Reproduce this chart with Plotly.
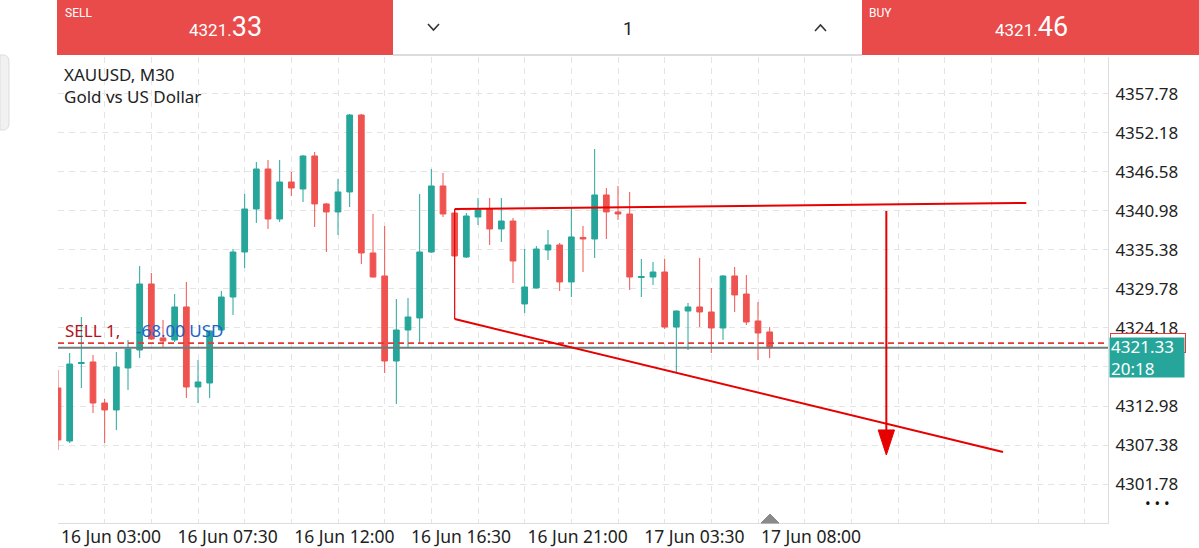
import plotly.graph_objects as go

W, H = 1199, 548

# ---------------- data ----------------
opens = [4315.56, 4307.95, 4319.08, 4319.30, 4313.41, 4312.41, 4318.44, 4321.02, 4330.50, 4322.75,
         4322.46, 4327.20, 4315.71, 4316.28, 4323.89, 4328.63, 4335.09, 4341.27, 4347.01, 4339.83,
         4345.14, 4344.14, 4348.88, 4341.99, 4340.84, 4343.71, 4354.76, 4334.95, 4331.65, 4319.44,
         4323.89, 4325.62, 4335.09, 4344.57, 4340.69, 4334.37, 4340.12, 4341.27, 4338.40, 4339.54,
         4327.63, 4329.92, 4335.38, 4336.10, 4330.79, 4337.18, 4336.96, 4343.28, 4340.84, 4340.55,
         4331.43, 4331.50, 4332.22, 4324.32, 4326.62, 4327.20, 4326.48, 4324.18, 4331.65, 4329.06,
         4325.19, 4323.61]
highs = [4318.15, 4320.59, 4325.76, 4320.30, 4313.99, 4320.73, 4322.46, 4333.08, 4332.08, 4325.33,
         4329.06, 4330.79, 4319.59, 4323.89, 4329.49, 4335.52, 4343.42, 4348.02, 4348.30, 4348.30,
         4346.58, 4349.00, 4349.45, 4342.13, 4345.57, 4354.91, 4354.91, 4340.55, 4338.83, 4328.34,
         4328.49, 4343.42, 4347.01, 4346.44, 4341.12, 4340.69, 4342.85, 4342.85, 4342.85, 4339.97,
         4335.52, 4335.95, 4338.25, 4336.39, 4341.41, 4338.83, 4349.88, 4344.28, 4344.57, 4343.71,
         4334.09, 4333.66, 4334.09, 4326.70, 4327.77, 4334.23, 4329.92, 4331.79, 4332.94, 4331.79,
         4327.91, 4324.32]
lows = [4306.66, 4307.67, 4315.56, 4311.97, 4307.67, 4309.53, 4315.28, 4319.87, 4322.46, 4321.31,
        4322.17, 4314.13, 4313.41, 4314.13, 4323.75, 4326.05, 4332.80, 4339.26, 4338.40, 4339.40,
        4343.13, 4342.27, 4338.68, 4335.09, 4337.53, 4341.55, 4333.37, 4331.45, 4317.72, 4313.27,
        4321.31, 4322.03, 4334.95, 4340.12, 4334.45, 4334.23, 4338.97, 4336.10, 4336.53, 4330.64,
        4326.33, 4329.85, 4333.94, 4329.49, 4328.63, 4332.22, 4334.23, 4336.96, 4339.69, 4329.64,
        4328.63, 4330.35, 4324.04, 4317.86, 4321.02, 4324.32, 4320.59, 4322.46, 4326.48, 4324.61,
        4319.59, 4319.87]
closes = [4308.10, 4319.01, 4319.23, 4313.41, 4312.41, 4318.58, 4321.16, 4330.50, 4322.60, 4322.31,
          4327.20, 4315.71, 4316.43, 4323.75, 4328.63, 4335.09, 4341.27, 4347.01, 4339.83, 4345.14,
          4344.28, 4348.88, 4341.99, 4340.84, 4343.71, 4354.76, 4334.95, 4331.50, 4319.44, 4323.89,
          4325.76, 4335.09, 4344.57, 4340.55, 4334.52, 4340.26, 4341.12, 4338.40, 4339.54, 4333.80,
          4330.07, 4335.52, 4336.10, 4330.79, 4337.25, 4336.96, 4343.28, 4340.84, 4340.55, 4331.50,
          4331.57, 4332.22, 4324.32, 4326.62, 4327.20, 4326.48, 4324.18, 4331.65, 4328.92, 4325.04,
          4323.46, 4321.33]
bar_index = list(range(len(opens)))

time_tick_index = [0, 10, 20, 30, 40, 50, 60]
time_tick_labels = ["16 Jun 03:00", "16 Jun 07:30", "16 Jun 12:00", "16 Jun 16:30",
                    "16 Jun 21:00", "17 Jun 03:30", "17 Jun 08:00"]
price_ticks = [4301.78, 4307.38, 4312.98, 4318.58, 4324.18, 4329.78,
               4335.38, 4340.98, 4346.58, 4352.18, 4357.78]

bid_price = 4321.33
ask_price = 4321.46
sell_open_price = 4322.00
bar_timer = "20:18"
position_text = "-68.00 USD"

# user drawings (bar index, price)
upper_line_x = [34, 83]
upper_line_y = [4341.27, 4342.13]
lower_line_x = [34, 81]
lower_line_y = [4325.47, 4306.37]
link_line_x = [34, 34]
link_line_y = [4341.27, 4325.47]
arrow_x = [71, 71]
arrow_y = [4340.98, 4305.94]

# ---------------- style ----------------
GREEN = "#26a69a"
RED = "#ef5350"
LINE_RED = "#e60000"
BAR_RED = "#e94b4b"
GRID = "#e4e4e4"
FONT = "Noto Sans"

X_RANGE = [0, 90]
Y_RANGE = [4296.18, 4363.09]
XD = [58 / W, 1108 / W]
YD = [1 - 523 / H, 1 - 57 / H]


def px(x):
    return x / W


def py(y):
    return 1 - y / H


def P(x, y):
    return f"{px(x):.5f},{py(y):.5f}"


fig = go.Figure()

fig.add_trace(go.Candlestick(
    x=bar_index, open=opens, high=highs, low=lows, close=closes,
    increasing=dict(line=dict(color=GREEN, width=1), fillcolor=GREEN),
    decreasing=dict(line=dict(color=RED, width=1), fillcolor=RED),
    whiskerwidth=0, hoverinfo="skip", showlegend=False,
))

# horizontal price lines
fig.add_trace(go.Scatter(x=X_RANGE, y=[sell_open_price] * 2, mode="lines",
                         line=dict(color="#e53935", width=1.6, dash="6px,4px"),
                         hoverinfo="skip", showlegend=False))
fig.add_trace(go.Scatter(x=X_RANGE, y=[bid_price] * 2, mode="lines",
                         line=dict(color="#6e7c7b", width=2),
                         hoverinfo="skip", showlegend=False))

# drawings
for xs, ys, w in [(upper_line_x, upper_line_y, 2), (lower_line_x, lower_line_y, 2),
                  (link_line_x, link_line_y, 1.2)]:
    fig.add_trace(go.Scatter(x=xs, y=ys, mode="lines", line=dict(color=LINE_RED, width=w),
                             hoverinfo="skip", showlegend=False))

head_len = 3.6   # price units
head_half = 0.7  # bar units
fig.add_trace(go.Scatter(x=arrow_x, y=[arrow_y[0], arrow_y[1] + head_len * 0.5], mode="lines",
                         line=dict(color=LINE_RED, width=2), hoverinfo="skip", showlegend=False))
fig.add_trace(go.Scatter(
    x=[arrow_x[1] - head_half, arrow_x[1] + head_half, arrow_x[1], arrow_x[1] - head_half],
    y=[arrow_y[1] + head_len, arrow_y[1] + head_len, arrow_y[1], arrow_y[1] + head_len],
    mode="lines", fill="toself", fillcolor=LINE_RED, line=dict(color=LINE_RED, width=1),
    hoverinfo="skip", showlegend=False))

shapes = []
# top bar
shapes.append(dict(type="rect", xref="paper", yref="paper", x0=px(57), x1=px(393), y0=py(55), y1=py(0),
                   fillcolor=BAR_RED, line=dict(width=0), layer="above"))
shapes.append(dict(type="rect", xref="paper", yref="paper", x0=px(393), x1=px(862), y0=py(55), y1=py(0),
                   fillcolor="white", line=dict(width=0), layer="above"))
shapes.append(dict(type="rect", xref="paper", yref="paper", x0=px(862), x1=px(1199), y0=py(55), y1=py(0),
                   fillcolor=BAR_RED, line=dict(width=0), layer="above"))
shapes.append(dict(type="line", xref="paper", yref="paper", x0=px(393), x1=px(862), y0=py(55), y1=py(55),
                   line=dict(color="#dcdcdc", width=2), layer="above"))
# chevrons
shapes.append(dict(type="path", xref="paper", yref="paper",
                   path=f"M{P(428,24)} L{P(433.5,30)} L{P(439,24)}",
                   line=dict(color="#333", width=1.6), layer="above"))
shapes.append(dict(type="path", xref="paper", yref="paper",
                   path=f"M{P(815,31)} L{P(820.5,25)} L{P(826,31)}",
                   line=dict(color="#333", width=1.6), layer="above"))
# left side handle
shapes.append(dict(type="path", xref="paper", yref="paper",
                   path=f"M{P(0,55)} L{P(3,55)} Q{P(9,55)} {P(9,62)} L{P(9,123)} Q{P(9,130)} {P(3,130)} L{P(0,130)} Z",
                   fillcolor="#f1f1f1", line=dict(color="#dddddd", width=1), layer="above"))
# bottom marker at last bar
shapes.append(dict(type="path", xref="paper", yref="paper",
                   path=f"M{P(761,523)} L{P(770,514)} L{P(779,523)} Z",
                   fillcolor="#8a8a8a", line=dict(color="#8a8a8a", width=1), layer="above"))

annotations = []


def ann(text, x, y, size, color, xanchor="left", yanchor="middle", family=FONT, **kw):
    annotations.append(dict(text=text, x=px(x), y=py(y), xref="paper", yref="paper",
                            xanchor=xanchor, yanchor=yanchor, showarrow=False,
                            font=dict(family=family, size=size, color=color), **kw))


ann("SELL", 63, 13, 12, "white", family="Roboto")
ann("BUY", 867, 13, 12, "white", family="Roboto")
sp, cp = f"{bid_price:.2f}".split(".")
ap, bp = f"{ask_price:.2f}".split(".")
ann(f"{sp}.<span style='font-size:27px'>{cp}</span>", 225, 27, 17, "white", xanchor="center", family="Roboto")
ann(f"{ap}.<span style='font-size:27px'>{bp}</span>", 1031, 27, 17, "white", xanchor="center", family="Roboto")
ann("1", 628, 28, 18, "#222", xanchor="center", family="Roboto")

ann("XAUUSD, M30", 62, 75, 17, "#222")
ann("Gold vs US Dollar", 62, 96, 17, "#222")
ann("• • •", 1157, 503, 15, "#111", xanchor="center")

# position label on chart
annotations.append(dict(text="SELL 1,", x=px(63), y=sell_open_price, xref="paper", yref="y",
                        xanchor="left", yanchor="bottom", yshift=-1, showarrow=False,
                        font=dict(family=FONT, size=17, color="#b3121b")))
annotations.append(dict(text=position_text, x=px(134), y=sell_open_price, xref="paper", yref="y",
                        xanchor="left", yanchor="bottom", yshift=-1, showarrow=False,
                        font=dict(family=FONT, size=17, color="#1e63c9")))

# right-side price boxes
annotations.append(dict(text=f"{sell_open_price:.2f}", x=px(1110), y=sell_open_price, xref="paper", yref="y",
                        xanchor="left", yanchor="top", yshift=10, showarrow=False, width=72, height=16,
                        align="left", bgcolor="white", bordercolor="#e53935", borderwidth=1, borderpad=1,
                        font=dict(family=FONT, size=15, color="#e53935")))
annotations.append(dict(text=f"{bid_price:.2f}<br>{bar_timer}", x=px(1109), y=bid_price, xref="paper", yref="y",
                        xanchor="left", yanchor="top", yshift=11, showarrow=False, width=72, height=37,
                        align="left", bgcolor=GREEN, borderpad=1,
                        font=dict(family=FONT, size=17, color="white")))

fig.update_layout(
    width=W, height=H, margin=dict(l=0, r=0, t=0, b=0, autoexpand=False),
    paper_bgcolor="white", plot_bgcolor="white",
    showlegend=False, hovermode=False,
    shapes=shapes, annotations=annotations,
    xaxis=dict(domain=XD, range=X_RANGE, rangeslider=dict(visible=False), automargin=False,
               tickmode="array", tickvals=time_tick_index, ticktext=time_tick_labels,
               ticks="", showgrid=False, zeroline=False,
               showline=True, linecolor="#dddddd", linewidth=1,
               tickfont=dict(family=FONT, size=17.5, color="#222"),
               ticklabelshift=53, ticklabelstandoff=-2,
               minor=dict(tickmode="linear", tick0=0, dtick=4, showgrid=True,
                          gridcolor=GRID, griddash="6px,5px", gridwidth=1, ticks="")),
    yaxis=dict(domain=YD, range=Y_RANGE, side="right", automargin=False,
               tickmode="array", tickvals=price_ticks, ticktext=[f"{v:.2f}" for v in price_ticks],
               ticks="", showgrid=True, gridcolor=GRID, griddash="6px,5px", zeroline=False,
               showline=True, linecolor="#dddddd", linewidth=1,
               tickfont=dict(family=FONT, size=17, color="#222"),
               ticklabelstandoff=3,
               minor=dict(tickmode="array", tickvals=[4363.38], showgrid=True,
                          gridcolor=GRID, griddash="6px,5px", ticks="")),
)

fig.write_html("out.html")
